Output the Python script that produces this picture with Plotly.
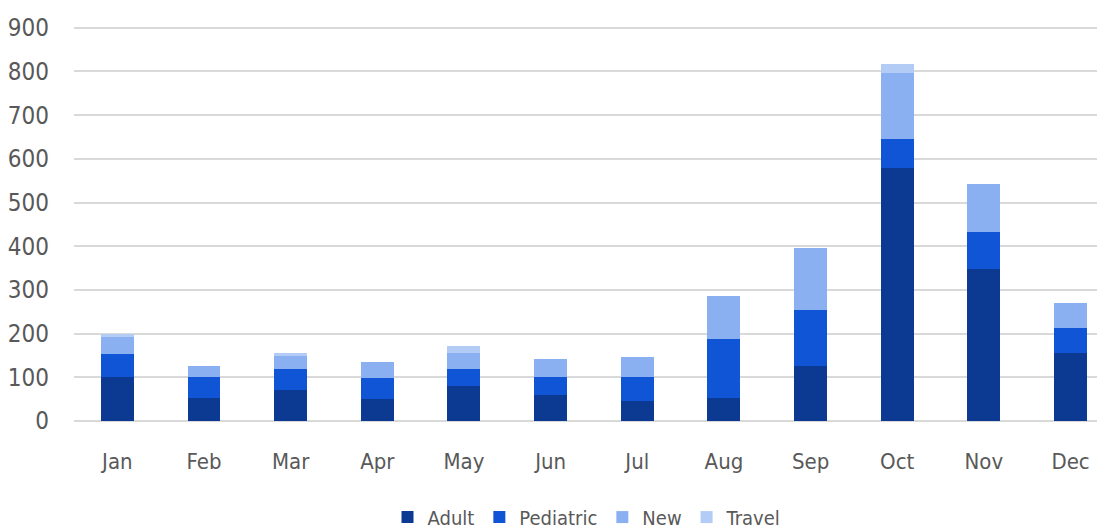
import plotly.graph_objects as go

months = ["Jan", "Feb", "Mar", "Apr", "May", "Jun", "Jul", "Aug", "Sep", "Oct", "Nov", "Dec"]
adult = [101, 52, 70, 50, 80, 59, 46, 52, 126, 580, 348, 155]
pediatric = [52, 48, 48, 49, 40, 42, 54, 136, 128, 65, 84, 57]
new = [40, 26, 30, 35, 35, 41, 47, 97, 142, 152, 111, 57]
travel = [7, 0, 7, 0, 17, 0, 0, 0, 0, 21, 0, 0]

y_ticks = [0, 100, 200, 300, 400, 500, 600, 700, 800, 900]

series = [
    ("Adult", adult, "#0C3A92"),
    ("Pediatric", pediatric, "#0F55D6"),
    ("New", new, "#8AB0F2"),
    ("Travel", travel, "#B3CCF6"),
]

font_family = "Liberation Sans Narrow, Arial Narrow, DejaVu Sans Condensed, Liberation Sans, sans-serif"

fig = go.Figure()
for name, vals, color in series:
    fig.add_trace(go.Bar(
        x=months, y=vals, name=name,
        marker=dict(color=color, line=dict(width=0)),
        width=0.38,
    ))

fig.update_layout(
    barmode="stack",
    width=1097, height=523,
    margin=dict(l=66, r=5, t=11, b=110, autoexpand=False),
    plot_bgcolor="white", paper_bgcolor="white",
    font=dict(family=font_family, size=22, color="#595959"),
    showlegend=True,
    legend=dict(
        orientation="h", x=0.5, xanchor="center", y=-0.239, yanchor="middle",
        font=dict(size=20, color="#595959"),
        itemwidth=30, traceorder="normal",
    ),
    xaxis=dict(
        range=[-0.5, 11.34],
        showgrid=False, showline=False, zeroline=False,
        ticks="", ticklabelstandoff=25, automargin=False,
        tickfont=dict(size=22, color="#595959"),
    ),
    yaxis=dict(
        range=[0, 920],
        tickvals=y_ticks,
        showgrid=True, gridcolor="#D9D9D9", gridwidth=2,
        zeroline=True, zerolinecolor="#D9D9D9", zerolinewidth=2,
        showline=False, ticks="", ticklabelstandoff=24, automargin=False,
        tickfont=dict(size=24, color="#595959"),
    ),
)

fig.write_html("out.html")
